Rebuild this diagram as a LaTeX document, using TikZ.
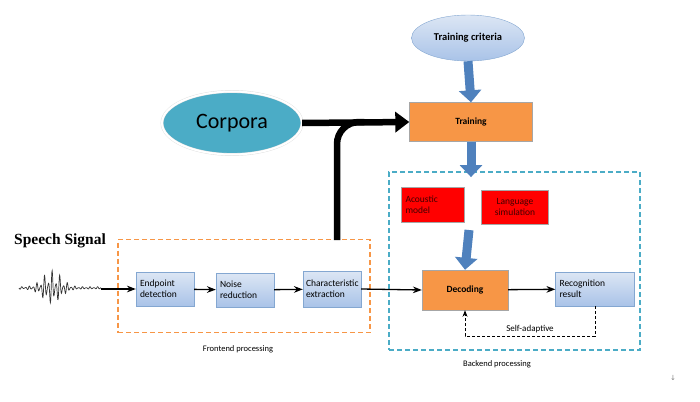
\documentclass[tikz,border=0pt]{standalone}
\usepackage{fontspec}
\setmainfont{Carlito}
\newfontfamily\sigfont{Liberation Serif}
\newfontfamily\symfont{DejaVu Sans}
\usetikzlibrary{arrows.meta, shapes.geometric, positioning}

\definecolor{steel}{HTML}{4F81BD}
\definecolor{orng}{HTML}{F79646}
\definecolor{teal}{HTML}{4BACC6}
\definecolor{paleblue}{HTML}{DCE6F4}
\definecolor{midblue}{HTML}{A9C3E8}

\begin{document}
\begin{tikzpicture}[x=1pt, y=-1pt, >=Stealth,
    box/.style={rectangle, draw=gray!70, font=\fontsize{9.5}{11}\selectfont, inner xsep=4pt},
    bluebox/.style={box, draw=steel!70, top color=paleblue, bottom color=midblue, align=left, text width=#1},
    orangebox/.style={box, fill=orng, font=\fontsize{9.5}{11}\selectfont\bfseries},
    redbox/.style={box, fill=red, text=red!25!black, align=#1},
    fatblue/.style={line width=9pt, steel, -{Triangle[width=22pt, length=12pt]}},
    fatblack/.style={line width=6.5pt, black},
    thinarrow/.style={->, line width=1.3pt},
    groupbox/.style={rectangle, line width=1.8pt, dash pattern=on 5pt off 3pt}]
  \useasboundingbox (0,0) rectangle (700,401);

  % Training
  \node[ellipse, draw=steel!70, top color=paleblue, bottom color=midblue,
        minimum width=113pt, minimum height=46pt,
        font=\fontsize{10.5}{12}\selectfont\bfseries] (crit) at (468,38) {Training criteria};
  \node[orangebox, minimum width=123pt, minimum height=39pt] (train) at (471,122) {Training};
  \node[ellipse, fill=teal, draw=gray!25, double=white, double distance=2pt,
        minimum width=140pt, minimum height=63pt,
        font=\fontsize{22}{24}\selectfont] (corpora) at (232,123) {Corpora};

  % Gruppi
  \node[groupbox, draw=orng, minimum width=252pt, minimum height=93pt] (front) at (244,286) {};
  \node[groupbox, draw=teal, minimum width=251pt, minimum height=178pt] (back) at (514.5,261) {};
  \node[font=\fontsize{8.5}{9}\selectfont] at (238,349) {Frontend processing};
  \node[font=\fontsize{8.5}{9}\selectfont] at (497,364) {Backend processing};

  % Frontend
  \node[bluebox=50pt, minimum height=34pt] (endpoint) at (165,289) {Endpoint\\detection};
  \node[bluebox=50pt, minimum height=34pt] (noise) at (245,290) {Noise\\reduction};
  \node[bluebox=52pt, minimum height=36pt, inner xsep=3pt] (feature) at (332,289) {Characteristic\\extraction};

  % Backend
  \node[redbox=left, text width=55pt, minimum height=35pt] (acoustic) at (433,205) {Acoustic\\model};
  \node[redbox=center, minimum width=67pt, minimum height=34pt] (lang) at (515,207) {Language\\simulation};
  \node[orangebox, minimum width=86pt, minimum height=40pt] (decode) at (465,290) {Decoding};
  \node[bluebox=71pt, minimum height=34pt] (result) at (595,289) {Recognition\\result};

  % Segnale
  \node[font=\sigfont\fontsize{15.5}{17}\selectfont\bfseries] (speech) at (60,241) {Speech Signal};
  \draw[line width=0.7pt, black!80] plot[domain=0:82, samples=320]
    ({19+\x}, {288 + (1.3 + 17*exp(-((\x-33)/13)^2))*(0.6+0.4*sin(\x*47))*sin(\x*95)});
  \coordinate (sig) at (101,289);
  \coordinate (mid) at (469,230);
  \coordinate (bend) at (337,240);

  % Frecce
  \draw[fatblue] (crit.south) -- (train.north);
  \draw[fatblue] (train.south) -- ([yshift=-6pt]train.south |- back.north);
  \draw[fatblue] (mid) -- (decode.north);
  \draw[fatblack, -{Triangle[width=20pt, length=14pt]}] (corpora.east) -- (train.west);
  \draw[fatblack, rounded corners=22pt] (bend) |- ([xshift=-45pt]train.west);
  \draw[thinarrow] (sig) -- (endpoint.west);
  \draw[thinarrow] (endpoint) -- (noise);
  \draw[thinarrow] (noise) -- (feature);
  \draw[thinarrow] (feature.east) -- (decode.west);
  \draw[thinarrow] (decode) -- (result);
  \draw[densely dashed, ->, line width=0.8pt] (result.south) -- ++(0,30) -| (decode.south)
    node[pos=0.25, above, font=\fontsize{9}{10}\selectfont] {Self-adaptive};

  \node[gray, font=\symfont\fontsize{7}{8}\selectfont] at (673,378) {↓};
\end{tikzpicture}
\end{document}
